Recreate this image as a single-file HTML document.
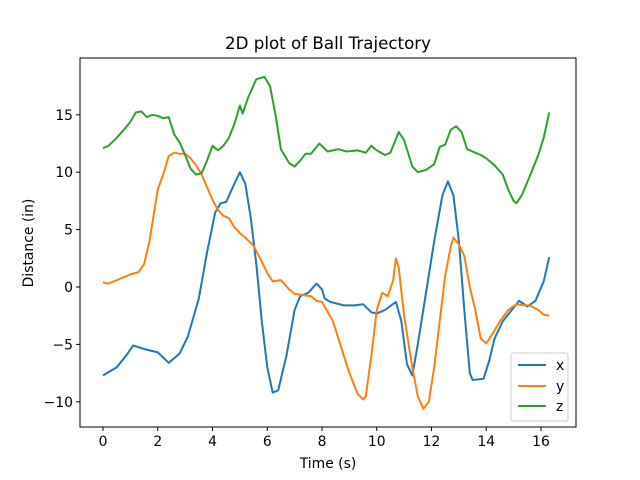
<!DOCTYPE html>
<html><head><meta charset="utf-8"><style>
body{margin:0;background:#fff;}
svg{display:block;font-family:"DejaVu Sans","Liberation Sans",sans-serif;}
</style></head><body>
<svg id="chart" width="640" height="480" viewBox="0 0 640 480">
<rect width="640" height="480" fill="#fff"/>
<text x="328" y="49" font-size="16.7" text-anchor="middle">2D plot of Ball Trajectory</text>
<g id="plot"></g>
<rect x="80" y="58" width="496" height="369" fill="none" stroke="#000" stroke-width="1"/>
<text x="328" y="468" font-size="13.9" text-anchor="middle">Time (s)</text>
<text transform="translate(33,243) rotate(-90)" font-size="13.9" text-anchor="middle">Distance (in)</text>
<g>
<rect x="511" y="353" width="57" height="68" rx="2" fill="#fff" fill-opacity="0.8" stroke="#ccc"/>
<line x1="518" y1="365" x2="546" y2="365" stroke="#1f77b4" stroke-width="2"/>
<text x="556" y="370" font-size="13.9">x</text>
<line x1="518" y1="386" x2="546" y2="386" stroke="#ff7f0e" stroke-width="2"/>
<text x="556" y="391" font-size="13.9">y</text>
<line x1="518" y1="406" x2="546" y2="406" stroke="#2ca02c" stroke-width="2"/>
<text x="556" y="411" font-size="13.9">z</text>
</g>
</svg>
<script>
const xTicks=[0,2,4,6,8,10,12,14,16];
const yTicks=[-10,-5,0,5,10,15];
const xT=[0,0.5,0.9,1.1,1.5,2,2.4,2.8,3.1,3.5,3.8,4.1,4.3,4.5,4.8,5.0,5.2,5.4,5.6,5.8,6.0,6.2,6.4,6.7,7.0,7.2,7.5,7.8,8,8.1,8.3,8.8,9.2,9.5,9.8,10,10.3,10.7,10.9,11.1,11.3,11.5,11.8,12.1,12.4,12.6,12.8,13.0,13.2,13.4,13.5,13.9,14.1,14.3,14.6,15.0,15.2,15.5,15.8,16.1,16.3];
const xV=[-7.7,-7.0,-5.8,-5.1,-5.4,-5.7,-6.6,-5.8,-4.3,-1,3,6.5,7.3,7.4,9,10,9,6,2,-3,-7,-9.2,-9,-6,-2,-0.8,-0.5,0.3,-0.2,-1.0,-1.3,-1.6,-1.6,-1.5,-2.2,-2.3,-2,-1.3,-3,-6.7,-7.7,-5,-0.5,4,8,9.2,8,4,-2,-7.5,-8.1,-8,-6.5,-4.5,-3,-1.8,-1.2,-1.7,-1.2,0.5,2.6];
const yT=[0,0.2,0.6,1.0,1.3,1.5,1.7,1.9,2.0,2.2,2.4,2.6,2.8,3.0,3.2,3.4,3.6,3.8,4.0,4.2,4.4,4.6,4.8,5.0,5.2,5.5,5.8,6.0,6.2,6.5,6.8,7.0,7.3,7.6,7.8,8.0,8.4,8.8,9.0,9.3,9.5,9.6,9.8,10.0,10.2,10.4,10.6,10.7,10.8,11.0,11.3,11.5,11.7,11.9,12.1,12.3,12.5,12.7,12.8,13.0,13.2,13.4,13.6,13.8,14.0,14.2,14.5,14.8,15.1,15.4,15.6,15.9,16.1,16.3];
const yV=[0.4,0.3,0.7,1.1,1.3,2,4,7,8.5,9.8,11.4,11.7,11.6,11.6,11.2,10.6,9.8,8.7,7.6,6.7,6.2,6.0,5.2,4.7,4.3,3.6,2.2,1.2,0.5,0.6,-0.2,-0.6,-0.7,-0.8,-1.2,-1.3,-3,-6,-7.5,-9.3,-9.8,-9.5,-6,-2,-0.5,-0.8,0.6,2.5,1.7,-2.5,-7,-9.5,-10.6,-10,-7,-3,1,3.5,4.3,3.7,2.7,0,-2,-4.5,-4.9,-4.2,-3.0,-2,-1.5,-1.6,-1.6,-2,-2.4,-2.5];
const zT=[0,0.2,0.5,0.8,1.0,1.2,1.4,1.6,1.8,2.0,2.2,2.4,2.6,2.8,3.0,3.2,3.4,3.6,3.8,4.0,4.2,4.4,4.6,4.8,5.0,5.1,5.3,5.6,5.9,6.1,6.3,6.5,6.8,7.0,7.2,7.4,7.6,7.9,8.2,8.6,8.9,9.3,9.6,9.8,10.0,10.3,10.5,10.8,11.0,11.3,11.5,11.8,12.1,12.3,12.5,12.7,12.9,13.1,13.3,13.6,13.8,14.0,14.3,14.6,14.8,15.0,15.1,15.3,15.6,15.9,16.1,16.3];
const zV=[12.1,12.3,13,13.8,14.4,15.2,15.3,14.8,15,14.9,14.7,14.8,13.3,12.6,11.5,10.3,9.8,9.9,11,12.3,11.9,12.3,13,14.2,15.8,15.1,16.5,18.1,18.3,17.5,15,12,10.8,10.5,11,11.6,11.6,12.5,11.8,12,11.8,11.9,11.7,12.3,11.9,11.5,11.7,13.5,12.8,10.5,10,10.2,10.7,12.2,12.4,13.7,14,13.5,12,11.7,11.5,11.2,10.6,9.8,8.5,7.5,7.3,8,9.7,11.5,13,15.2];

const sx=t=>103+27.375*t;
const sy=v=>287-11.48*v;
const NS="http://www.w3.org/2000/svg";
const svg=document.getElementById('chart');
const plot=document.getElementById('plot');
function mk(tag,attrs,parent){const e=document.createElementNS(NS,tag);for(const k in attrs)e.setAttribute(k,attrs[k]);parent.appendChild(e);return e;}
xTicks.forEach(t=>{
  const l=mk('line',{x1:sx(t),x2:sx(t),y1:427,y2:431,stroke:'#000'},svg);
  
  
  const tx=mk('text',{x:sx(t),y:446,'font-size':13.9,'text-anchor':'middle'},svg);
  tx.textContent=t;
  
  
});
yTicks.forEach(v=>{
  const l=mk('line',{x1:76,x2:80,y1:sy(v),y2:sy(v),stroke:'#000'},svg);
  
  
  const tx=mk('text',{x:73,y:sy(v)+5,'font-size':13.9,'text-anchor':'end'},svg);
  tx.textContent=v<0?'\u2212'+(-v):v;
  
  
});
function series(T,V,color,name){
  const d=T.map((t,i)=>(i?'L':'M')+sx(t).toFixed(1)+','+sy(V[i]).toFixed(1)).join('');
  const p=mk('path',{d:d,fill:'none',stroke:color,'stroke-width':2,'stroke-linejoin':'round'},plot);
  
  
}
series(xT,xV,'#1f77b4','series-x-line');
series(yT,yV,'#ff7f0e','series-y-line');
series(zT,zV,'#2ca02c','series-z-line');
</script>
</body></html>
